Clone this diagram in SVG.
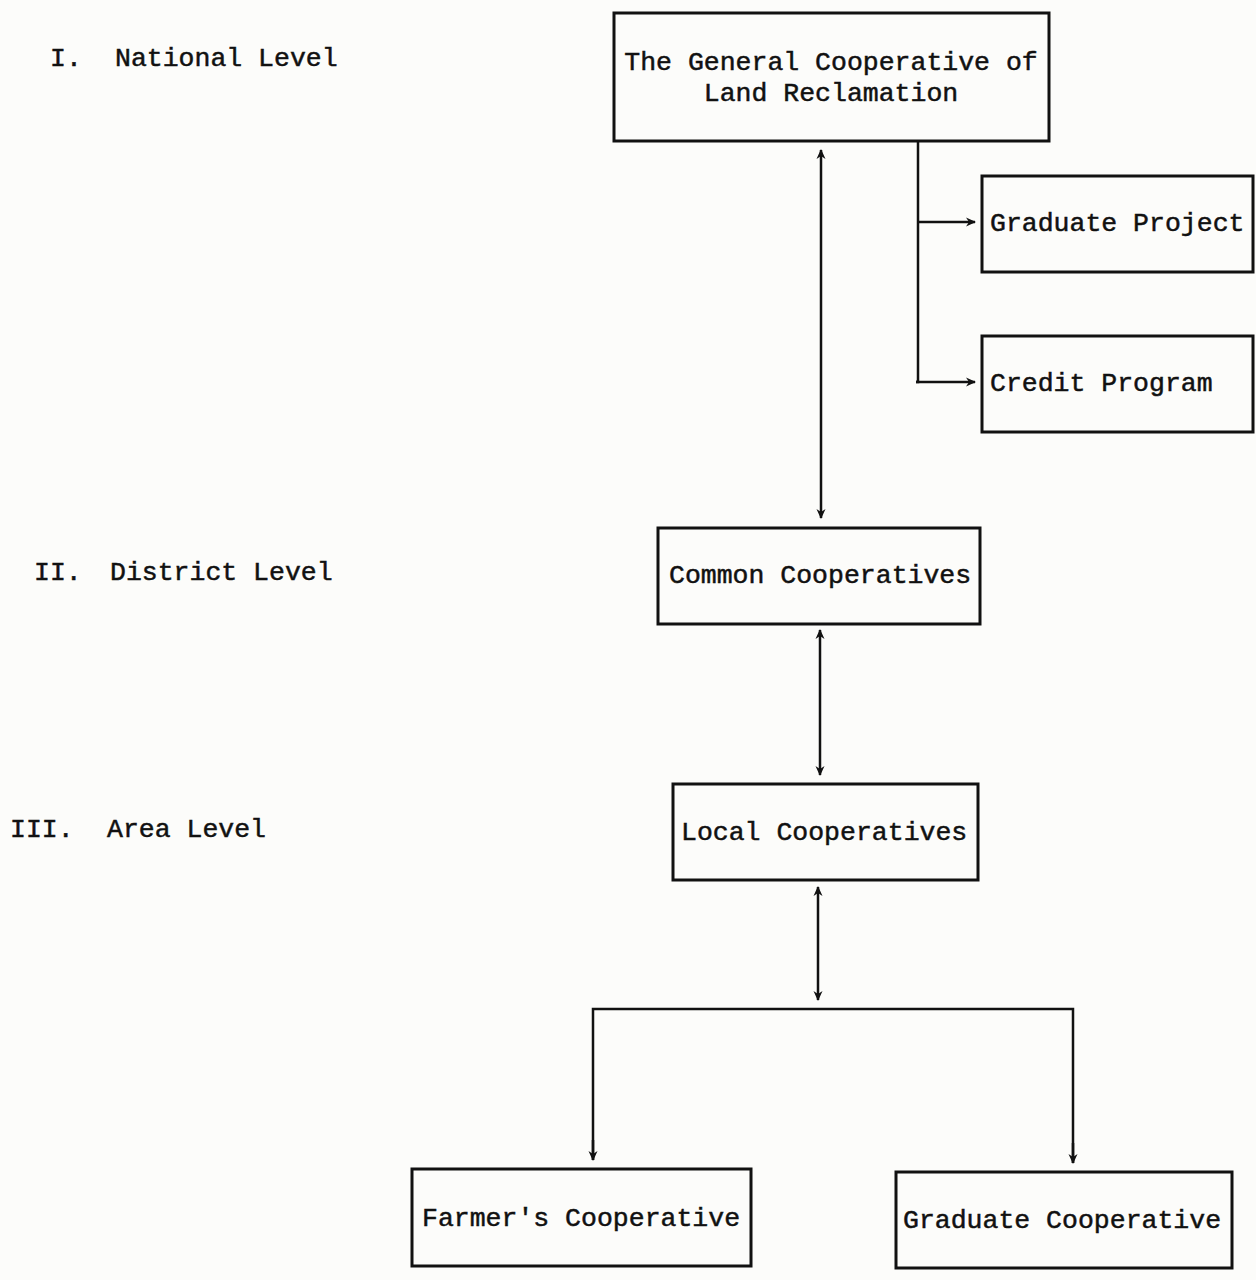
<svg xmlns="http://www.w3.org/2000/svg" width="1256" height="1280" viewBox="0 0 1256 1280">
<defs>
<marker id="ah" viewBox="0 0 10 10" refX="9" refY="5" markerWidth="10" markerHeight="10" markerUnits="userSpaceOnUse" orient="auto-start-reverse">
<path d="M0,0.5 L10,5 L0,9.5 L3,5 Z" fill="#111"/>
</marker>
<style>
.box{fill:none;stroke:#111;stroke-width:3}
.t{font-family:"Liberation Mono","DejaVu Sans Mono",monospace;font-size:26.5px;letter-spacing:0px;fill:#111;stroke:#111;stroke-width:0.5}
.c{fill:none;stroke:#111;stroke-width:2.5}
</style>
</defs>
<rect width="1256" height="1280" fill="#fcfcfa"/>
<g id="levels">
<text class="t" x="50" y="66">I.</text>
<text class="t" x="115" y="66">National Level</text>
<text class="t" x="34" y="580">II.</text>
<text class="t" x="110" y="580">District Level</text>
<text class="t" x="10" y="837">III.</text>
<text class="t" x="107" y="837">Area Level</text>
</g>
<g id="general">
<rect class="box" x="614" y="13" width="435" height="128"/>
<text class="t" x="831" y="70" text-anchor="middle">The General Cooperative of</text>
<text class="t" x="831" y="101" text-anchor="middle">Land Reclamation</text>
</g>
<g id="gradproject">
<rect class="box" x="982" y="176" width="271" height="96"/>
<text class="t" x="990" y="231">Graduate Project</text>
</g>
<g id="credit">
<rect class="box" x="982" y="336" width="271" height="96"/>
<text class="t" x="990" y="391">Credit Program</text>
</g>
<g id="common">
<rect class="box" x="658" y="528" width="322" height="96"/>
<text class="t" x="669" y="583">Common Cooperatives</text>
</g>
<g id="local">
<rect class="box" x="673" y="784" width="305" height="96"/>
<text class="t" x="681" y="840">Local Cooperatives</text>
</g>
<g id="farmers">
<rect class="box" x="412" y="1169" width="339" height="97"/>
<text class="t" x="422" y="1226">Farmer's Cooperative</text>
</g>
<g id="gradcoop">
<rect class="box" x="896" y="1172" width="336" height="96"/>
<text class="t" x="903" y="1228">Graduate Cooperative</text>
</g>
<g id="connectors">
<line class="c" x1="821" y1="150" x2="821" y2="518" marker-start="url(#ah)" marker-end="url(#ah)"/>
<polyline class="c" points="918,141 918,382 916,382"/>
<line class="c" x1="918" y1="222" x2="975" y2="222" marker-end="url(#ah)"/>
<line class="c" x1="916" y1="382" x2="975" y2="382" marker-end="url(#ah)"/>
<line class="c" x1="820" y1="630" x2="820" y2="775" marker-start="url(#ah)" marker-end="url(#ah)"/>
<line class="c" x1="818" y1="887" x2="818" y2="1000" marker-start="url(#ah)" marker-end="url(#ah)"/>
<polyline class="c" points="593,1160 593,1009 1073,1009 1073,1163"/>
<line class="c" x1="593" y1="1140" x2="593" y2="1160" marker-end="url(#ah)"/>
<line class="c" x1="1073" y1="1143" x2="1073" y2="1163" marker-end="url(#ah)"/>
</g>
</svg>
